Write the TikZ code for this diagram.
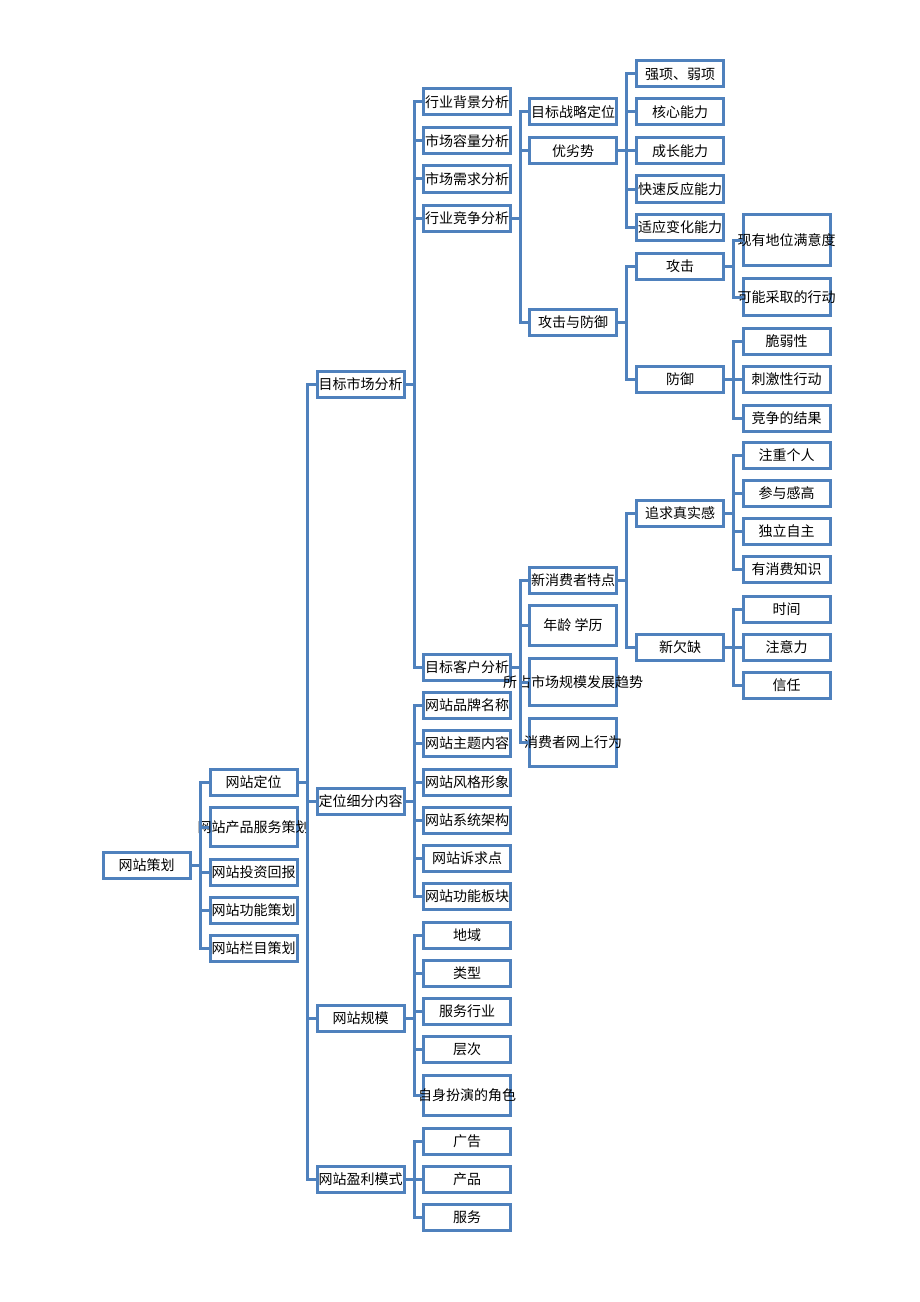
\documentclass[tikz,border=0pt]{standalone}
\usepackage{fontspec}
\setmainfont{Noto Sans CJK SC}
\definecolor{bl}{HTML}{4F81BD}
\begin{document}
\begin{tikzpicture}[x=0.75pt,y=-0.75pt,
  bx/.style={draw=bl,line width=2.25pt,fill=white,minimum width=65.25pt,minimum height=19.5pt,inner sep=0pt,font=\fontsize{10.5}{12}\selectfont},
  ht/.style={minimum height={(#1-3)*0.75pt}},
  ln/.style={draw=bl,line width=2.25pt}]
\useasboundingbox (0,0) rectangle (920,1302);
\newcommand\B[4][]{\node[bx,#1] (#2) at (#3) {\makebox[0pt]{#4}};}
\newcommand\C[2]{\draw[ln] (#1.east) -- ++(8.5,0) |- (#2.west);}
% column 1
\B{n0}{146.5,865}{网站策划}
% column 2
\B{a1}{253.5,782}{网站定位}
\B[ht=42]{a2}{253.5,827}{网站产品服务策划}
\B{a3}{253.5,872}{网站投资回报}
\B{a4}{253.5,910}{网站功能策划}
\B{a5}{253.5,948}{网站栏目策划}
% column 3
\B{b1}{360.5,384}{目标市场分析}
\B{b2}{360.5,801}{定位细分内容}
\B{b3}{360.5,1018}{网站规模}
\B{b4}{360.5,1179}{网站盈利模式}
% column 4
\B{c1}{467,102}{行业背景分析}
\B{c2}{467,141}{市场容量分析}
\B{c3}{467,179}{市场需求分析}
\B{c4}{467,218}{行业竞争分析}
\B{c5}{467,667}{目标客户分析}
\B{d1}{467,705}{网站品牌名称}
\B{d2}{467,743}{网站主题内容}
\B{d3}{467,782}{网站风格形象}
\B{d4}{467,820}{网站系统架构}
\B{d5}{467,858}{网站诉求点}
\B{d6}{467,896}{网站功能板块}
\B{e1}{467,935}{地域}
\B{e2}{467,973}{类型}
\B{e3}{467,1011}{服务行业}
\B{e4}{467,1049}{层次}
\B[ht=43]{e5}{467,1095}{自身扮演的角色}
\B{f1}{467,1141}{广告}
\B{f2}{467,1179}{产品}
\B{f3}{467,1217}{服务}
% column 5
\B{g1}{573,112}{目标战略定位}
\B{g2}{573,151}{优劣势}
\B{g3}{573,322}{攻击与防御}
\B{h1}{573,580}{新消费者特点}
\B[ht=43]{h2}{573,625}{年龄 学历}
\B[ht=50]{h3}{573,682}{所占市场规模发展趋势}
\B[ht=51]{h4}{573,742.5}{消费者网上行为}
% column 6
\B{i1}{680,74}{强项、弱项}
\B{i2}{680,112}{核心能力}
\B{i3}{680,151}{成长能力}
\B{i4}{680,189}{快速反应能力}
\B{i5}{680,227}{适应变化能力}
\B{j1}{680,266}{攻击}
\B{j2}{680,379}{防御}
\B{k1}{680,513}{追求真实感}
\B{k2}{680,647}{新欠缺}
% column 7
\B[ht=54]{l1}{786.5,240}{现有地位满意度}
\B[ht=40]{l2}{786.5,297}{可能采取的行动}
\B{m1}{786.5,341}{脆弱性}
\B{m2}{786.5,379}{刺激性行动}
\B{m3}{786.5,418}{竞争的结果}
\B{o1}{786.5,455}{注重个人}
\B{o2}{786.5,493}{参与感高}
\B{o3}{786.5,531}{独立自主}
\B{o4}{786.5,569}{有消费知识}
\B{p1}{786.5,609}{时间}
\B{p2}{786.5,647}{注意力}
\B{p3}{786.5,685}{信任}
% connectors
\begin{scope}[on background layer/.try]
\foreach \c in {a1,a2,a3,a4,a5} {\C{n0}{\c}}
\foreach \c in {b1,b2,b3,b4} {\C{a1}{\c}}
\foreach \c in {c1,c2,c3,c4,c5} {\C{b1}{\c}}
\foreach \c in {d1,d2,d3,d4,d5,d6} {\C{b2}{\c}}
\foreach \c in {e1,e2,e3,e4,e5} {\C{b3}{\c}}
\foreach \c in {f1,f2,f3} {\C{b4}{\c}}
\foreach \c in {g1,g2,g3} {\C{c4}{\c}}
\foreach \c in {h1,h2,h3,h4} {\C{c5}{\c}}
\foreach \c in {i1,i2,i3,i4,i5} {\C{g2}{\c}}
\foreach \c in {j1,j2} {\C{g3}{\c}}
\foreach \c in {k1,k2} {\C{h1}{\c}}
\foreach \c in {l1,l2} {\C{j1}{\c}}
\foreach \c in {m1,m2,m3} {\C{j2}{\c}}
\foreach \c in {o1,o2,o3,o4} {\C{k1}{\c}}
\foreach \c in {p1,p2,p3} {\C{k2}{\c}}
\end{scope}
\end{tikzpicture}
\end{document}
